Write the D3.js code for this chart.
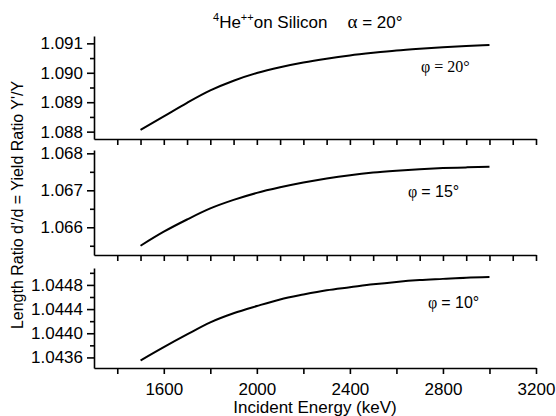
<!DOCTYPE html>
<html>
<head>
<meta charset="utf-8">
<script src="https://cdn.jsdelivr.net/npm/d3@7"></script>
<style>
  body { margin: 0; background: #fff; }
  svg text { font-family: "Liberation Sans", Arial, sans-serif; fill: #000; }
  .axis path, .axis line { stroke: #000; stroke-width: 1.6; }
  .axis text { font-size: 17px; }
</style>
</head>
<body>
<div id="chart"></div>
<script>
// data
var energy = [1500, 1600, 1700, 1800, 1900, 2000, 2100, 2200, 2300, 2400, 2500, 2600, 2700, 2800, 2900, 3000];
var phi20 = [1.08806, 1.08852, 1.08898, 1.08940, 1.08973, 1.08999, 1.09019, 1.09035, 1.09048, 1.09059, 1.09068, 1.09076, 1.09082, 1.09087, 1.09091, 1.09094];
var phi15 = [1.06550, 1.06588, 1.06621, 1.06651, 1.06674, 1.06693, 1.06708, 1.06721, 1.06732, 1.06741, 1.06748, 1.06753, 1.06757, 1.06760, 1.06762, 1.06764];
var phi10 = [1.04355, 1.04377, 1.04398, 1.04418, 1.04433, 1.04445, 1.04456, 1.04464, 1.04471, 1.04476, 1.04481, 1.04485, 1.04488, 1.04490, 1.04492, 1.04493];

var xTickLabels = [1600, 2000, 2400, 2800, 3200];
var yTicks20 = [1.088, 1.089, 1.090, 1.091];
var yTicks15 = [1.066, 1.067, 1.068];
var yTicks10 = [1.0436, 1.0440, 1.0444, 1.0448];

var width = 556, height = 416;

var svg = d3.select("#chart")
    .append("svg")
    .attr("width", width)
    .attr("height", height);

// x scale shared by all panels
var x = d3.scaleLinear()
    .domain([1300, 3200])
    .range([94, 536]);

var panels = [
    { values: phi20, top: 36, bottom: 139, domain: [1.08775, 1.09125], ticks: yTicks20, minor: [1.0885, 1.0895, 1.0905], fmt: ".3f", xStep: 100,
      label: "φ = 20°", lx: 421, ly: 72, serif: true },
    { values: phi15, top: 150, bottom: 255, domain: [1.06525, 1.06809], ticks: yTicks15, minor: [1.0655, 1.0665, 1.0675], fmt: ".3f", xStep: 100,
      label: "= 15°", lx: 408, ly: 197, serif: false },
    { values: phi10, top: 268, bottom: 368, domain: [1.043425, 1.04508], ticks: yTicks10, minor: [1.0438, 1.0442, 1.0446, 1.0450], fmt: ".4f", xStep: 200,
      label: "= 10°", lx: 428, ly: 308, serif: false }
];

panels.forEach(function (p, i) {
    var y = d3.scaleLinear()
        .domain(p.domain)
        .range([p.bottom, p.top]);

    // x axis (bottom of each panel)
    var xt = d3.range(1400, 3201, p.xStep);
    var xAxis = d3.axisBottom(x)
        .tickValues(xt)
        .tickSize(6)
        .tickSizeOuter(0)
        .tickFormat(function (d) { return (i == 2 && xTickLabels.indexOf(d) >= 0) ? d : ""; });
    var gx = svg.append("g")
        .attr("class", "axis")
        .attr("transform", "translate(0," + p.bottom + ")")
        .call(xAxis);
    gx.selectAll("text").attr("dy", "1.05em");

    // y axis, major and minor ticks
    svg.append("g")
        .attr("class", "axis")
        .attr("transform", "translate(" + x.range()[0] + ",0)")
        .call(d3.axisLeft(y).tickValues(p.ticks).tickSize(7).tickSizeOuter(0).tickFormat(d3.format(p.fmt)))
        .selectAll("text").attr("dx", "-1px");
    svg.append("g")
        .attr("class", "axis")
        .attr("transform", "translate(" + x.range()[0] + ",0)")
        .call(d3.axisLeft(y).tickValues(p.minor).tickSize(4).tickSizeOuter(0).tickFormat(""))
        .select(".domain").remove();

    // curve
    svg.append("path")
        .datum(energy.map(function (e, j) { return { e: e, v: p.values[j] }; }))
        .attr("fill", "none")
        .attr("stroke", "#000")
        .attr("stroke-width", 2)
        .attr("d", d3.line()
            .curve(d3.curveMonotoneX)
            .x(function (d) { return x(d.e) })
            .y(function (d) { return y(d.v) })
        );

    // panel label
    var t = svg.append("text")
        .attr("x", p.lx)
        .attr("y", p.ly)
        .style("font-size", "16px");
    if (p.serif) {
        t.style("font-family", "'Liberation Serif', 'Times New Roman', serif").text(p.label);
    } else {
        t.append("tspan").style("font-family", "'Liberation Serif', serif").text("φ ");
        t.append("tspan").text(p.label);
    }
});

// title
var title = svg.append("text")
    .attr("x", 213)
    .attr("y", 28)
    .style("font-size", "17px");
title.append("tspan").attr("dy", -7).style("font-size", "11px").text("4");
title.append("tspan").attr("dy", 7).text("He");
title.append("tspan").attr("dy", -7).style("font-size", "11px").text("++");
title.append("tspan").attr("dy", 7).text("on Silicon");
title.append("tspan").attr("dx", 20).style("font-family", "'Liberation Serif', serif").style("font-size", "19px").text("α");
title.append("tspan").text(" = 20°");

// axis titles
svg.append("text")
    .attr("x", 315)
    .attr("y", 413)
    .attr("text-anchor", "middle")
    .style("font-size", "17px")
    .text("Incident Energy (keV)");

svg.append("text")
    .attr("transform", "translate(23,205) rotate(-90)")
    .attr("text-anchor", "middle")
    .style("font-size", "16px")
    .text("Length Ratio d'/d = Yield Ratio Y'/Y");
</script>
</body>
</html>
